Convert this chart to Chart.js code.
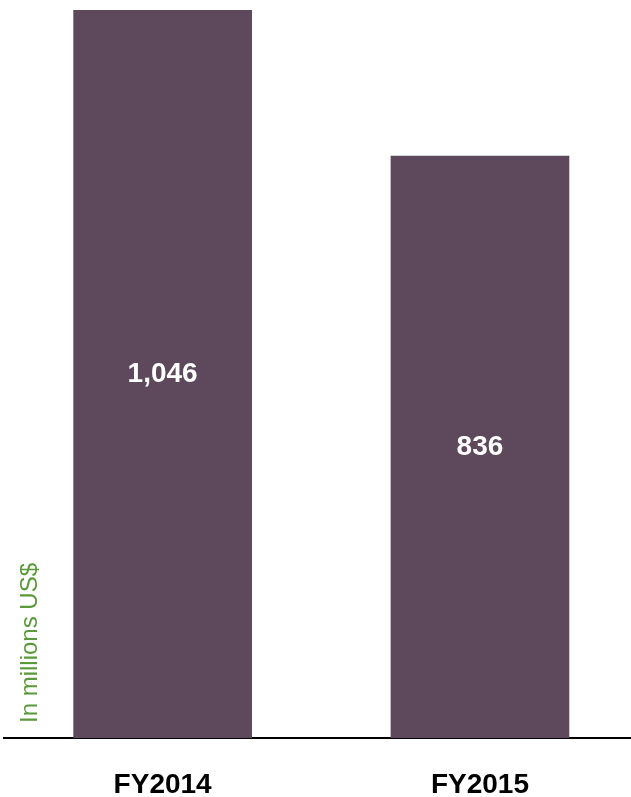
<!DOCTYPE html>
<html>
<head>
<meta charset="utf-8">
<script src="https://cdn.jsdelivr.net/npm/chart.js@4/dist/chart.umd.min.js"></script>
<style>
    html, body { margin: 0; padding: 0; background: #fff; }
    #wrap { width: 631px; height: 797px; position: relative; }
</style>
</head>
<body>
<div id="wrap"><canvas id="revenueChart"></canvas></div>
<script>
const years = ['FY2014', 'FY2015'];
const revenue = [1046, 836];
const valueLabels = ['1,046', '836'];
const axisTitle = 'In millions US$';

const FONT = '"Liberation Sans", Arial, sans-serif';

// value text in the middle of each bar
const barLabels = {
    id: 'barLabels',
    afterDatasetsDraw(chart) {
        const ctx = chart.ctx;
        const meta = chart.getDatasetMeta(0);
        ctx.save();
        ctx.fillStyle = '#FFFFFF';
        ctx.font = 'bold 28px ' + FONT;
        ctx.textAlign = 'center';
        ctx.textBaseline = 'middle';
        meta.data.forEach((bar, i) => {
            ctx.fillText(valueLabels[i], bar.x, (bar.y + bar.base) / 2);
        });
        ctx.restore();
    }
};

// rotated unit note inside the plot, left of first bar
const unitNote = {
    id: 'unitNote',
    afterDraw(chart) {
        const ctx = chart.ctx;
        ctx.save();
        ctx.translate(37, chart.chartArea.bottom - 15);
        ctx.rotate(-Math.PI / 2);
        ctx.fillStyle = '#5A9A3C';
        ctx.font = '24px ' + FONT;
        ctx.textAlign = 'left';
        ctx.textBaseline = 'alphabetic';
        ctx.fillText(axisTitle, 0, 0);
        ctx.restore();
    }
};

// the category slots are not symmetric in the original, so a linear
// index axis is used and only the two year positions get a label
new Chart(document.getElementById('revenueChart').getContext('2d'), {
    type: 'bar',
    data: {
        datasets: [{
            data: revenue.map((v, i) => ({ x: i, y: v })),
            backgroundColor: '#5E485C',
            borderWidth: 0,
            barThickness: 178
        }]
    },
    options: {
        responsive: true,
        maintainAspectRatio: false,
        animation: false,
        layout: {
            padding: { top: 10, left: 4, right: 0, bottom: 0 }
        },
        plugins: {
            legend: { display: false },
            tooltip: { enabled: false }
        },
        scales: {
            y: {
                display: false,
                min: 0,
                max: 1046
            },
            x: {
                type: 'linear',
                offset: false,
                min: -0.5,
                max: 1.476,
                grid: { display: false, drawTicks: false, offset: false },
                border: { display: true, color: '#000000', width: 2 },
                afterBuildTicks(scale) {
                    scale.ticks = years.map((_, i) => ({ value: i }));
                },
                ticks: {
                    color: '#000000',
                    padding: 30,
                    autoSkip: false,
                    maxRotation: 0,
                    font: { family: FONT, size: 28, weight: 'bold' },
                    callback: (v) => years[v]
                },
                afterFit(scale) {
                    scale.height = 59;
                }
            }
        }
    },
    plugins: [barLabels, unitNote]
});
</script>
</body>
</html>
